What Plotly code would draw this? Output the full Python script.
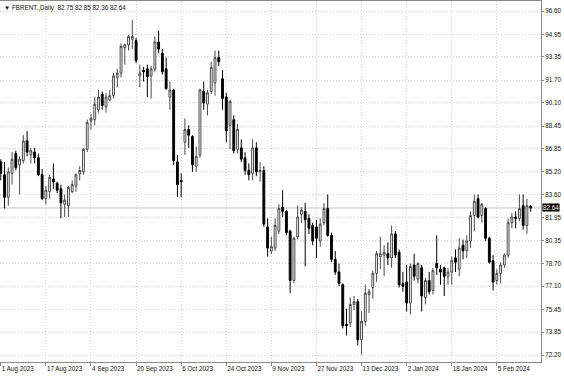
import pandas as pd
import plotly.graph_objects as go

# ---- data -------------------------------------------------------------
start_date = "2023-08-01"
end_date = "2024-02-16"
holidays = ["2023-12-25", "2024-01-01"]

opens = [85.9, 85.0, 83.4, 85.1, 86.5, 85.7, 86.0, 87.4, 86.4, 86.6,
         86.2, 85.0, 83.3, 83.8, 84.7, 84.4, 84.0, 82.9, 82.8, 83.8,
         84.2, 85.05, 85.2, 86.8, 88.8, 88.9, 89.6, 90.7, 89.8, 90.3,
         90.6, 91.9, 92.2, 94.0, 94.2, 94.6, 94.5, 92.0, 92.4, 92.5,
         92.0, 92.5, 94.4, 93.6, 92.5, 90.5, 91.0, 85.9, 84.6, 87.3,
         88.2, 87.7, 85.6, 86.4, 90.9, 90.0, 90.9, 91.5, 93.3, 91.8,
         90.5, 88.5, 88.9, 86.8, 86.9, 86.2, 85.3, 85.1, 86.9, 85.2,
         85.3, 81.3, 79.6, 79.8, 81.0, 82.7, 82.4, 81.0, 77.5, 80.6,
         82.2, 82.4, 81.9, 81.4, 81.3, 80.3, 81.6, 82.6, 80.7, 79.0,
         78.1, 77.2, 74.4, 74.5, 75.8, 76.0, 73.3, 74.6, 76.5, 77.0,
         78.0, 79.2, 79.3, 79.4, 79.1, 80.8, 79.5, 77.3, 77.4, 75.9,
         78.6, 77.6, 78.4, 76.3, 77.5, 76.8, 78.7, 78.3, 78.4, 77.8,
         78.1, 79.1, 78.3, 80.0, 79.6, 80.3, 82.1, 83.3, 82.1, 82.6,
         80.5, 78.9, 77.5, 78.0, 78.6, 79.3, 81.6, 82.0, 81.9, 82.8,
         81.4, 82.75]
highs = [86.1, 85.9, 85.5, 86.6, 86.7, 86.3, 87.8, 88.1, 86.9, 86.9,
         86.5, 85.4, 84.2, 85.0, 85.8, 84.5, 84.3, 83.6, 84.2, 84.6,
         85.1, 85.6, 86.9, 88.9, 89.3, 90.5, 91.0, 90.9, 90.8, 91.0,
         92.2, 92.5, 94.3, 94.3, 94.9, 95.96, 94.7, 92.8, 92.65, 92.8,
         92.7, 94.8, 95.2, 93.9, 93.3, 91.6, 91.1, 86.4, 85.1, 89.0,
         88.5, 87.8, 87.0, 91.1, 91.6, 91.0, 93.0, 93.8, 93.8, 92.4,
         90.8, 90.3, 89.2, 88.6, 87.5, 86.6, 85.8, 87.5, 87.3, 85.9,
         85.6, 81.9, 80.6, 81.9, 82.9, 83.9, 82.5, 81.1, 80.6, 82.8,
         82.7, 83.0, 82.2, 81.6, 81.8, 81.9, 83.0, 83.6, 80.9, 79.6,
         78.7, 77.3, 75.5, 76.3, 76.4, 76.2, 75.3, 77.2, 76.9, 78.2,
         79.6, 80.6, 80.0, 80.2, 81.4, 81.0, 79.7, 78.1, 78.6, 78.7,
         79.4, 78.8, 78.6, 77.7, 78.1, 78.4, 80.7, 78.6, 78.5, 78.4,
         79.2, 79.7, 80.5, 80.4, 80.7, 82.4, 83.6, 83.6, 83.0, 82.7,
         80.6, 79.3, 78.3, 78.8, 79.4, 81.9, 82.3, 82.4, 83.6, 83.6,
         83.3, 82.85]
lows = [84.6, 82.6, 82.8, 84.3, 85.3, 83.6, 85.8, 86.3, 85.8, 85.8,
        84.9, 83.2, 82.9, 83.3, 84.0, 83.7, 81.9, 82.0, 82.0, 83.7,
        83.8, 84.6, 85.0, 86.6, 88.2, 88.5, 89.4, 89.6, 89.4, 90.2,
        90.4, 91.2, 91.9, 92.8, 93.8, 93.9, 92.9, 91.2, 91.6, 90.5,
        90.4, 92.3, 93.6, 92.1, 91.0, 89.6, 85.7, 83.4, 83.4, 86.4,
        86.9, 85.2, 85.2, 86.2, 89.6, 89.2, 90.7, 90.6, 92.7, 89.6,
        87.3, 86.8, 86.5, 86.5, 85.9, 85.0, 84.6, 84.6, 84.9, 84.5,
        81.3, 79.2, 79.4, 79.6, 80.8, 82.0, 80.7, 76.6, 77.3, 80.4,
        81.6, 78.5, 80.8, 80.0, 79.1, 79.9, 81.4, 80.6, 78.8, 77.9,
        77.1, 74.1, 73.6, 74.2, 75.4, 72.9, 72.25, 74.3, 75.2, 76.2,
        77.4, 78.3, 77.8, 78.6, 78.4, 79.1, 77.0, 76.7, 75.3, 75.1,
        77.5, 77.3, 75.3, 75.8, 76.5, 76.5, 77.9, 77.2, 76.4, 77.2,
        77.2, 78.1, 77.8, 79.0, 79.1, 79.8, 81.0, 81.9, 81.6, 80.3,
        78.7, 76.8, 77.2, 77.3, 78.4, 79.1, 81.2, 81.2, 81.7, 81.1,
        80.8, 82.36]
closes = [85.1, 83.4, 85.2, 86.1, 85.5, 86.1, 87.4, 86.6, 86.7, 86.2,
          85.0, 83.3, 83.9, 84.8, 84.5, 83.9, 83.0, 83.2, 84.1, 84.3,
          85.0, 85.3, 86.8, 88.7, 89.0, 90.0, 90.5, 89.9, 90.5, 90.6,
          92.0, 92.2, 94.1, 94.2, 94.8, 94.8, 93.1, 92.2, 92.3, 91.95,
          92.5, 94.4, 93.9, 92.3, 91.1, 91.0, 86.0, 84.3, 84.5, 88.2,
          87.8, 85.7, 86.3, 91.0, 90.1, 90.8, 92.6, 93.3, 93.0, 90.4,
          88.1, 90.2, 86.7, 88.2, 86.1, 85.3, 85.0, 86.9, 85.2, 85.3,
          81.5, 79.8, 79.9, 81.4, 82.6, 82.4, 80.9, 77.5, 80.5, 82.0,
          82.5, 81.8, 81.2, 80.3, 80.5, 81.5, 82.6, 80.7, 79.0, 78.1,
          77.3, 74.3, 74.3, 75.8, 76.0, 73.3, 74.6, 76.6, 76.7, 78.0,
          79.4, 79.4, 79.5, 79.1, 80.8, 79.3, 77.2, 77.1, 75.9, 78.5,
          77.8, 78.7, 76.4, 77.5, 76.7, 78.2, 78.4, 78.1, 77.8, 78.1,
          78.9, 78.8, 79.8, 79.6, 80.3, 82.1, 83.1, 82.0, 82.9, 80.5,
          78.8, 77.4, 78.0, 78.6, 79.3, 81.6, 82.0, 81.9, 82.6, 81.4,
          82.8, 82.64]

x_labels = ["1 Aug 2023", "17 Aug 2023", "4 Sep 2023", "20 Sep 2023",
            "6 Oct 2023", "24 Oct 2023", "9 Nov 2023", "27 Nov 2023",
            "13 Dec 2023", "2 Jan 2024", "18 Jan 2024", "5 Feb 2024"]
y_labels = ["96.60", "94.95", "93.35", "91.70", "90.10", "88.45", "86.85",
            "85.20", "83.60", "81.95", "80.35", "78.70", "77.10", "75.45",
            "73.85", "72.20"]
symbol = "FBRENT.,Daily"
last_price = 82.64

# ---- build -------------------------------------------------------------
dates = [d for d in pd.bdate_range(start_date, end_date)
         if d.strftime("%Y-%m-%d") not in holidays]
idx = list(range(len(dates)))
label_dates = [pd.Timestamp(s) for s in x_labels]
x_tickvals = [dates.index(d) for d in label_dates]
y_tickvals = [float(s) for s in y_labels]

FONT = "Liberation Sans"
FS = 6.3
GRID = "#d2d2d2"
DOT = "1px,2px"

fig = go.Figure()
fig.add_trace(go.Candlestick(
    x=idx, open=opens, high=highs, low=lows, close=closes,
    increasing=dict(line=dict(color="#4a4a4a", width=1), fillcolor="white"),
    decreasing=dict(line=dict(color="black", width=1), fillcolor="black"),
    whiskerwidth=0, hoverinfo="skip",
))

fig.add_shape(type="line", xref="paper", x0=0, x1=1, yref="y",
              y0=last_price, y1=last_price,
              line=dict(color="#c4c4c4", width=1), layer="below")

fig.add_annotation(xref="paper", x=1, xanchor="left", yref="y", y=last_price,
                   text=f"{last_price:.2f}", showarrow=False,
                   bgcolor="black", font=dict(family=FONT, size=FS, color="white"),
                   borderpad=0, xshift=1)

nb = "\u00a0"
header = (f"\u25bc{nb}{symbol}{nb}{nb}{opens[-1]:.2f}{nb}{highs[-1]:.2f}"
          f"{nb}{lows[-1]:.2f}{nb}{closes[-1]:.2f}")
fig.add_annotation(xref="paper", x=0, xanchor="left", yref="paper", y=1,
                   yanchor="top", text=header, showarrow=False,
                   font=dict(family=FONT, size=FS, color="#111"), xshift=2, yshift=-1)

fig.update_layout(
    width=564, height=376,
    margin=dict(l=0, r=23, t=1, b=14, autoexpand=False),
    paper_bgcolor="white", plot_bgcolor="white",
    showlegend=False, boxgap=0.3,
    xaxis=dict(
        range=[-0.21, 143.75], rangeslider=dict(visible=False),
        tickmode="array", tickvals=x_tickvals, ticktext=x_labels,
        ticklabelposition="outside right", tickangle=0, automargin=False,
        showgrid=True, gridcolor=GRID, griddash=DOT, gridwidth=1,
        showline=True, linecolor="#8a8a8a", linewidth=1, mirror=True,
        ticks="outside", ticklen=3, tickcolor="#8a8a8a",
        tickfont=dict(family=FONT, size=FS, color="#111"),
        zeroline=False,
    ),
    yaxis=dict(
        side="right", range=[71.724, 97.31], automargin=False,
        tickmode="array", tickvals=y_tickvals, ticktext=y_labels,
        showgrid=True, gridcolor=GRID, griddash=DOT, gridwidth=1,
        showline=True, linecolor="#8a8a8a", linewidth=1, mirror=True,
        ticks="outside", ticklen=2, tickcolor="#8a8a8a",
        tickfont=dict(family=FONT, size=FS, color="#111"),
        zeroline=False,
    ),
)

fig.write_html("out.html")
